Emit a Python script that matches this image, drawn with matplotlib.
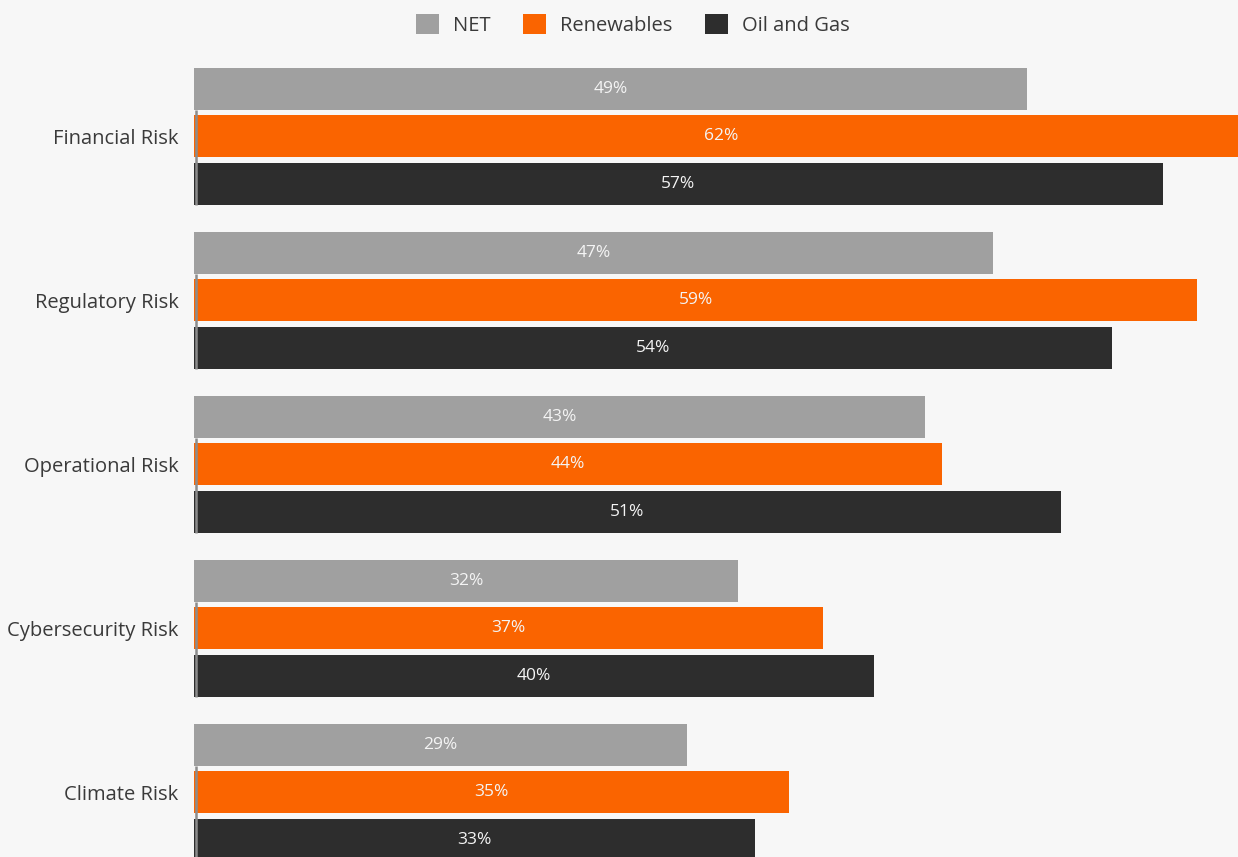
import numpy as np
import matplotlib.pyplot as plt
from matplotlib.patches import Patch

categories = ['Financial Risk', 'Regulatory Risk', 'Operational Risk',
              'Cybersecurity Risk', 'Climate Risk']
series_names = ['NET', 'Renewables', 'Oil and Gas']
net = [49, 47, 43, 32, 29]
renewables = [62, 59, 44, 37, 35]
oil_gas = [57, 54, 51, 40, 33]

colors = ['#a0a0a0', '#fa6400', '#2d2d2d']
bg = '#f7f7f7'

plt.rcParams['font.family'] = ['Open Sans', 'DejaVu Sans']

W, H = 1238, 857
fig = plt.figure(figsize=(W / 100, H / 100), dpi=100, facecolor=bg)
ax = fig.add_axes([194 / W, 0, 1 - 194 / W, 1 - 55 / H])
ax.set_facecolor(bg)

y = np.arange(len(categories))
step = 47.5 / 164
height = 42 / 164

for i, (vals, c) in enumerate(zip([net, renewables, oil_gas], colors)):
    pos = y + (i - 1) * step
    bars = ax.barh(pos, vals, height=height, color=c, zorder=2)
    for b, v in zip(bars, vals):
        ax.text(v / 2, b.get_y() + b.get_height() / 2, f'{v}%',
                ha='center', va='center', color='#f4f4f4', fontsize=12.5,
                zorder=5)

# thin gray edge next to the lower two bars of each group
ax.vlines(np.full(len(y), 0.1), y - step + height / 2, y + step + height / 2,
          color='#8c8c8c', lw=1.8, zorder=3)

ax.set_xlim(0, (W - 194) / 17)
ax.set_ylim(4.396, -0.494)
ax.set_yticks(y)
ax.set_yticklabels(categories, fontsize=14.5, color='#3a3a3a')
ax.tick_params(axis='y', length=0, pad=11)
ax.set_xticks([])
for s in ax.spines.values():
    s.set_visible(False)

handles = [Patch(facecolor=c, label=n) for n, c in zip(series_names, colors)]
fig.legend(handles=handles, loc='center', bbox_to_anchor=(633 / W, 1 - 25 / H),
           ncol=3, frameon=False, fontsize=14.5, handlelength=1.15,
           handleheight=1.15, handletextpad=0.7, columnspacing=1.6,
           labelcolor='#3a3a3a')

fig.savefig('out.png', dpi=100, facecolor=bg)
